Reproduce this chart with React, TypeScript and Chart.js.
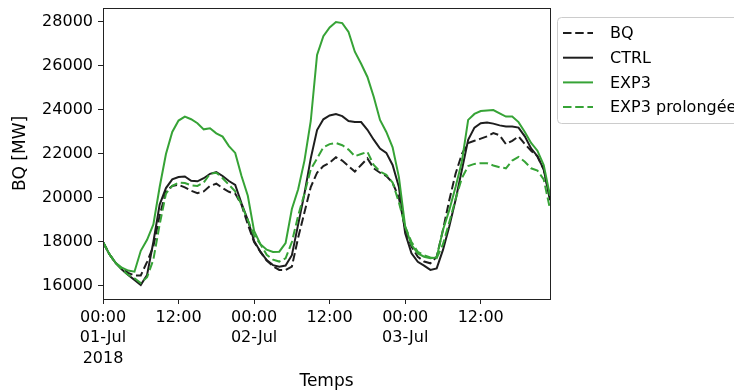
import React, { useEffect, useRef } from "react";
import { Chart, registerables } from "chart.js";

Chart.register(...registerables);

// Hourly values, 01-Jul-2018 00:00 .. 03-Jul-2018 23:00
const bq = [
  18000, 17450, 17050, 16800, 16600, 16480, 16480, 17100, 17800, 19200, 20300, 20550,
  20600, 20480, 20330, 20220, 20300, 20550, 20650, 20450, 20280, 20200, 19700, 18800,
  18000, 17550, 17150, 16900, 16730, 16730, 16880, 18200, 19350, 20500, 21150, 21450,
  21600, 21850, 21700, 21450, 21200, 21500, 21800, 21350, 21150, 21000, 20700, 20000,
  18600, 17790, 17330, 17110, 17030, 17330, 18550, 19900, 21100, 22000, 22500, 22600,
  22700, 22800, 22950, 22850, 22450, 22600, 22800, 22450, 22150, 21900, 21300, 20000,
];
const ctrl = [
  18000, 17450, 17050, 16750, 16500, 16280, 16050, 16500, 18000, 19700, 20450, 20850,
  20950, 20980, 20780, 20760, 20900, 21100, 21180, 21000, 20770, 20590, 19760, 19000,
  18050, 17560, 17180, 16950, 16880, 16930, 17400, 18800, 20200, 21800, 23090, 23575,
  23750, 23820, 23720, 23500, 23450, 23450, 23100, 22650, 22250, 22050, 21500, 20500,
  18400, 17485, 17100, 16925, 16730, 16800, 17640, 18700, 19910, 21270, 22640, 23200,
  23400, 23430, 23380, 23300, 23250, 23250, 23200, 22800, 22250, 21900, 21300, 19900,
];
const exp3 = [
  18000, 17450, 17050, 16830, 16700, 16650, 17600, 18100, 18800, 20500, 22000, 23000,
  23520, 23700, 23580, 23400, 23120, 23170, 22940, 22790, 22360, 22050, 21000, 20100,
  18500, 17900, 17650, 17550, 17560, 17950, 19500, 20400, 21700, 23500, 26500, 27350,
  27750, 28000, 27950, 27550, 26650, 26100, 25500, 24600, 23550, 23000, 22300, 20950,
  18700, 17870, 17480, 17330, 17260, 17300, 18550, 19450, 20500, 21650, 23550, 23820,
  23950, 23980, 24000, 23850, 23700, 23700, 23450, 23000, 22500, 22150, 21500, 20100,
];
const exp3Prolongee = [
  18000, 17450, 17050, 16750, 16500, 16350, 16130, 16400, 17200, 18800, 20200, 20550,
  20700, 20680, 20580, 20550, 20700, 21100, 21150, 20900, 20600, 20300, 19700, 19000,
  18300, 17900, 17420, 17200, 17110, 17260, 18000, 19200, 20200, 21300, 21800, 22300,
  22450, 22500, 22400, 22200, 21900, 22000, 22100, 21500, 21200, 21050, 20700, 19800,
  18700, 18000, 17550, 17400, 17300, 17260, 17900, 18900, 19950, 20900, 21450, 21550,
  21580, 21580, 21480, 21400, 21350, 21700, 21870, 21650, 21350, 21250, 20850, 19500,
];

const seriesNames = ["BQ", "CTRL", "EXP3", "EXP3 prolongée"];
const xTickHours = [0, 12, 24, 36, 48, 60];
const xTickLabels = [
  ["00:00", "01-Jul", "2018"],
  ["12:00"],
  ["00:00", "02-Jul"],
  ["12:00"],
  ["00:00", "03-Jul"],
  ["12:00"],
];
const yTicks = [16000, 18000, 20000, 22000, 24000, 26000, 28000];
const yTitle = "BQ [MW]";
const xTitle = "Temps";

export default function App() {
  const ref = useRef<HTMLCanvasElement>(null);

  useEffect(() => {
    document.body.style.margin = "0";
    const canvas = ref.current;
    if (!canvas) return;
    const FONT = "'DejaVu Sans', sans-serif";
    const BLACK = "#1e1e1e";
    const GREEN = "#36a336";
    const DASH = [8.5, 3.7];
    const toPts = (arr: number[]) => arr.map((v, i) => ({ x: i, y: v }));

    const framePlugin = {
      id: "frame",
      afterDatasetsDraw(chart: any) {
        const { ctx, chartArea: a } = chart;
        ctx.save();
        ctx.strokeStyle = "#222";
        ctx.lineWidth = 1;
        ctx.setLineDash([]);
        ctx.strokeRect(Math.round(a.left) + 0.5, Math.round(a.top) + 0.5, Math.round(a.right - a.left), Math.round(a.bottom - a.top));
        ctx.restore();
      },
    };

    const legendPlugin = {
      id: "boxLegend",
      afterDraw(chart: any) {
        const ctx = chart.ctx;
        ctx.save();
        ctx.strokeStyle = "#cccccc";
        ctx.lineWidth = 1;
        ctx.fillStyle = "rgba(255,255,255,0.85)";
        ctx.beginPath();
        (ctx as any).roundRect(557.5, 17.5, 200, 106, 4);
        ctx.fill();
        ctx.stroke();
        chart.data.datasets.forEach((ds: any, i: number) => {
          const y = 33 + i * 24.7;
          ctx.strokeStyle = ds.borderColor;
          ctx.lineWidth = ds.borderWidth;
          ctx.setLineDash(ds.borderDash || []);
          ctx.beginPath();
          ctx.moveTo(563, y);
          ctx.lineTo(593, y);
          ctx.stroke();
          ctx.setLineDash([]);
          ctx.fillStyle = "#000";
          ctx.font = `16px ${FONT}`;
          ctx.textBaseline = "middle";
          ctx.textAlign = "left";
          ctx.fillText(ds.label, 610, y + 1);
        });
        ctx.restore();
      },
    };

    const chart = new Chart(canvas, {
      type: "line",
      data: {
        datasets: [
          { label: seriesNames[0], data: toPts(bq), borderColor: BLACK, borderWidth: 2, borderDash: DASH, order: 4 },
          { label: seriesNames[1], data: toPts(ctrl), borderColor: BLACK, borderWidth: 2, order: 3 },
          { label: seriesNames[2], data: toPts(exp3), borderColor: GREEN, borderWidth: 2, order: 2 },
          { label: seriesNames[3], data: toPts(exp3Prolongee), borderColor: GREEN, borderWidth: 2, borderDash: DASH, order: 1 },
        ] as any,
      },
      options: {
        responsive: false,
        animation: false,
        events: [],
        elements: { point: { radius: 0 }, line: { tension: 0, fill: false } },
        layout: { padding: { left: 0, right: 184, top: 8, bottom: 0 } },
        plugins: { legend: { display: false }, tooltip: { enabled: false } },
        scales: {
          x: {
            type: "linear",
            min: 0,
            max: 71,
            border: { display: false },
            grid: { display: true, drawOnChartArea: false, drawTicks: true, tickLength: 5, color: "#222" },
            afterBuildTicks: (s: any) => {
              s.ticks = xTickHours.map((v) => ({ value: v }));
            },
            afterFit: (s: any) => {
              s.height = 93;
              s.paddingLeft = 0;
              s.paddingRight = 0;
            },
            ticks: {
              autoSkip: false,
              maxRotation: 0,
              minRotation: 0,
              padding: 3,
              color: "#000",
              font: { family: FONT, size: 16, lineHeight: 1.3 },
              callback: (v: any) => {
                const i = xTickHours.indexOf(Number(v));
                return i >= 0 ? xTickLabels[i] : "";
              },
            },
            title: { display: true, text: xTitle, color: "#000", font: { family: FONT, size: 17 }, padding: { top: 0, bottom: 0 } },
          },
          y: {
            type: "linear",
            min: 15409,
            max: 28636,
            border: { display: false },
            grid: { display: true, drawOnChartArea: false, drawTicks: true, tickLength: 5, color: "#222" },
            afterBuildTicks: (s: any) => {
              s.ticks = yTicks.map((v) => ({ value: v }));
            },
            afterFit: (s: any) => {
              s.width = 103;
              s.paddingTop = 0;
              s.paddingBottom = 0;
            },
            ticks: {
              padding: 5,
              color: "#000",
              font: { family: FONT, size: 16 },
              callback: (v: any) => String(v),
            },
            title: { display: true, text: yTitle, color: "#000", font: { family: FONT, size: 17 }, padding: { top: 10, bottom: 0 } },
          },
        },
      },
      plugins: [framePlugin, legendPlugin],
    } as any);

    return () => chart.destroy();
  }, []);

  return (
    <div style={{ position: "fixed", left: 0, top: 0, width: 734, height: 392, overflow: "hidden", background: "#fff" }}>
      <canvas ref={ref} width={734} height={392} style={{ display: "block", width: 734, height: 392 }} />
    </div>
  );
}
